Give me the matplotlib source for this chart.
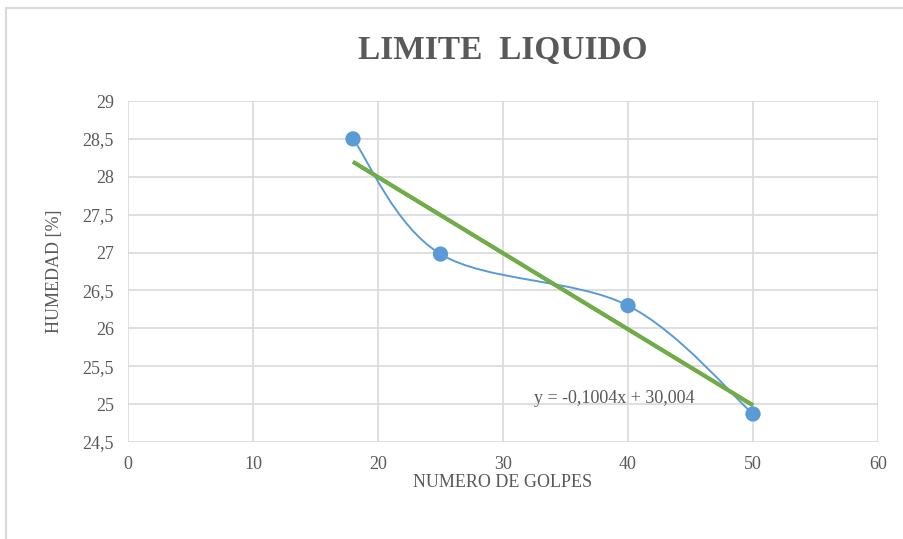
import matplotlib.pyplot as plt
import matplotlib.patheffects as pe
from matplotlib.path import Path
from matplotlib.patches import PathPatch
from matplotlib.lines import Line2D
import numpy as np

plt.rcParams['font.family'] = ['Liberation Serif', 'DejaVu Serif']

# ensayo de limite liquido (Casagrande)
golpes = [18, 25, 40, 50]
humedad = [28.5, 26.98, 26.3, 24.87]

# tendencia lineal reportada
pendiente = -0.1004
intercepto = 30.004
ecuacion = "y = -0,1004x + 30,004"

x_ticks = [0, 10, 20, 30, 40, 50, 60]
y_ticks = [24.5, 25, 25.5, 26, 26.5, 27, 27.5, 28, 28.5, 29]
y_labels = ["24,5", "25", "25,5", "26", "26,5", "27", "27,5", "28", "28,5", "29"]

azul = "#5b9bd5"
verde = "#70ad47"
gris_texto = "#595959"
gris_rejilla = "#d9d9d9"


def curva_suave(xs, ys):
    # bezier tipo Catmull-Rom, como la linea suavizada de Excel
    pts = np.column_stack([xs, ys]).astype(float)
    ext = np.vstack([pts[0], pts, pts[-1]])
    verts = [tuple(pts[0])]
    codes = [Path.MOVETO]
    for i in range(len(pts) - 1):
        p0, p1, p2, p3 = ext[i], ext[i + 1], ext[i + 2], ext[i + 3]
        c1 = p1 + (p2 - p0) / 6
        c2 = p2 - (p3 - p1) / 6
        verts += [tuple(c1), tuple(c2), tuple(p2)]
        codes += [Path.CURVE4] * 3
    return Path(verts, codes)


fig = plt.figure(figsize=(9.04, 5.39), dpi=100)
ax = fig.add_axes([128 / 904, 1 - 442 / 539, 750 / 904, 341 / 539])

# marco del grafico
fig.add_artist(Line2D([6 / 904, 6 / 904], [0, 1 - 8 / 539], transform=fig.transFigure,
                      color=gris_rejilla, lw=1.5))
fig.add_artist(Line2D([6 / 904, 1], [1 - 8 / 539, 1 - 8 / 539], transform=fig.transFigure,
                      color=gris_rejilla, lw=1.5))

ax.set_xlim(0, 60)
ax.set_ylim(24.5, 29)
ax.set_xticks(x_ticks)
ax.set_yticks(y_ticks)
ax.set_yticklabels(y_labels)
ax.grid(True, color=gris_rejilla, lw=1.2)
ax.set_axisbelow(True)
for s in ax.spines.values():
    s.set_visible(False)
ax.tick_params(length=0, labelsize=13, colors=gris_texto, pad=10)

ax.add_patch(PathPatch(curva_suave(golpes, humedad), fill=False, edgecolor=azul,
                       lw=1.4, transform=ax.transData, zorder=3))

xt = np.array([min(golpes), max(golpes)])
ax.plot(xt, pendiente * xt + intercepto, color=verde, lw=2.4, zorder=4,
        solid_capstyle='butt',
        path_effects=[pe.Stroke(linewidth=3.0, foreground="#6aa84a"), pe.Normal()])

ax.plot(golpes, humedad, 'o', ms=11, color=azul, mec=azul, mew=0, zorder=5,
        path_effects=[pe.SimpleLineShadow(offset=(1.0, -2.0), shadow_color='#7f7f7f', alpha=0.25),
                      pe.Normal()])

ax.text(32.5, 25.08, ecuacion, fontsize=13, color=gris_texto, va='center', ha='left', zorder=6)

ax.set_xlabel("NUMERO DE GOLPES", fontsize=13, color=gris_texto, labelpad=1)
ax.set_ylabel("HUMEDAD [%]", fontsize=13, color=gris_texto, labelpad=14)
ax.set_title("LIMITE  LIQUIDO", fontsize=24, fontweight='bold', color=gris_texto, pad=30)

fig.savefig("out.png", dpi=100)
